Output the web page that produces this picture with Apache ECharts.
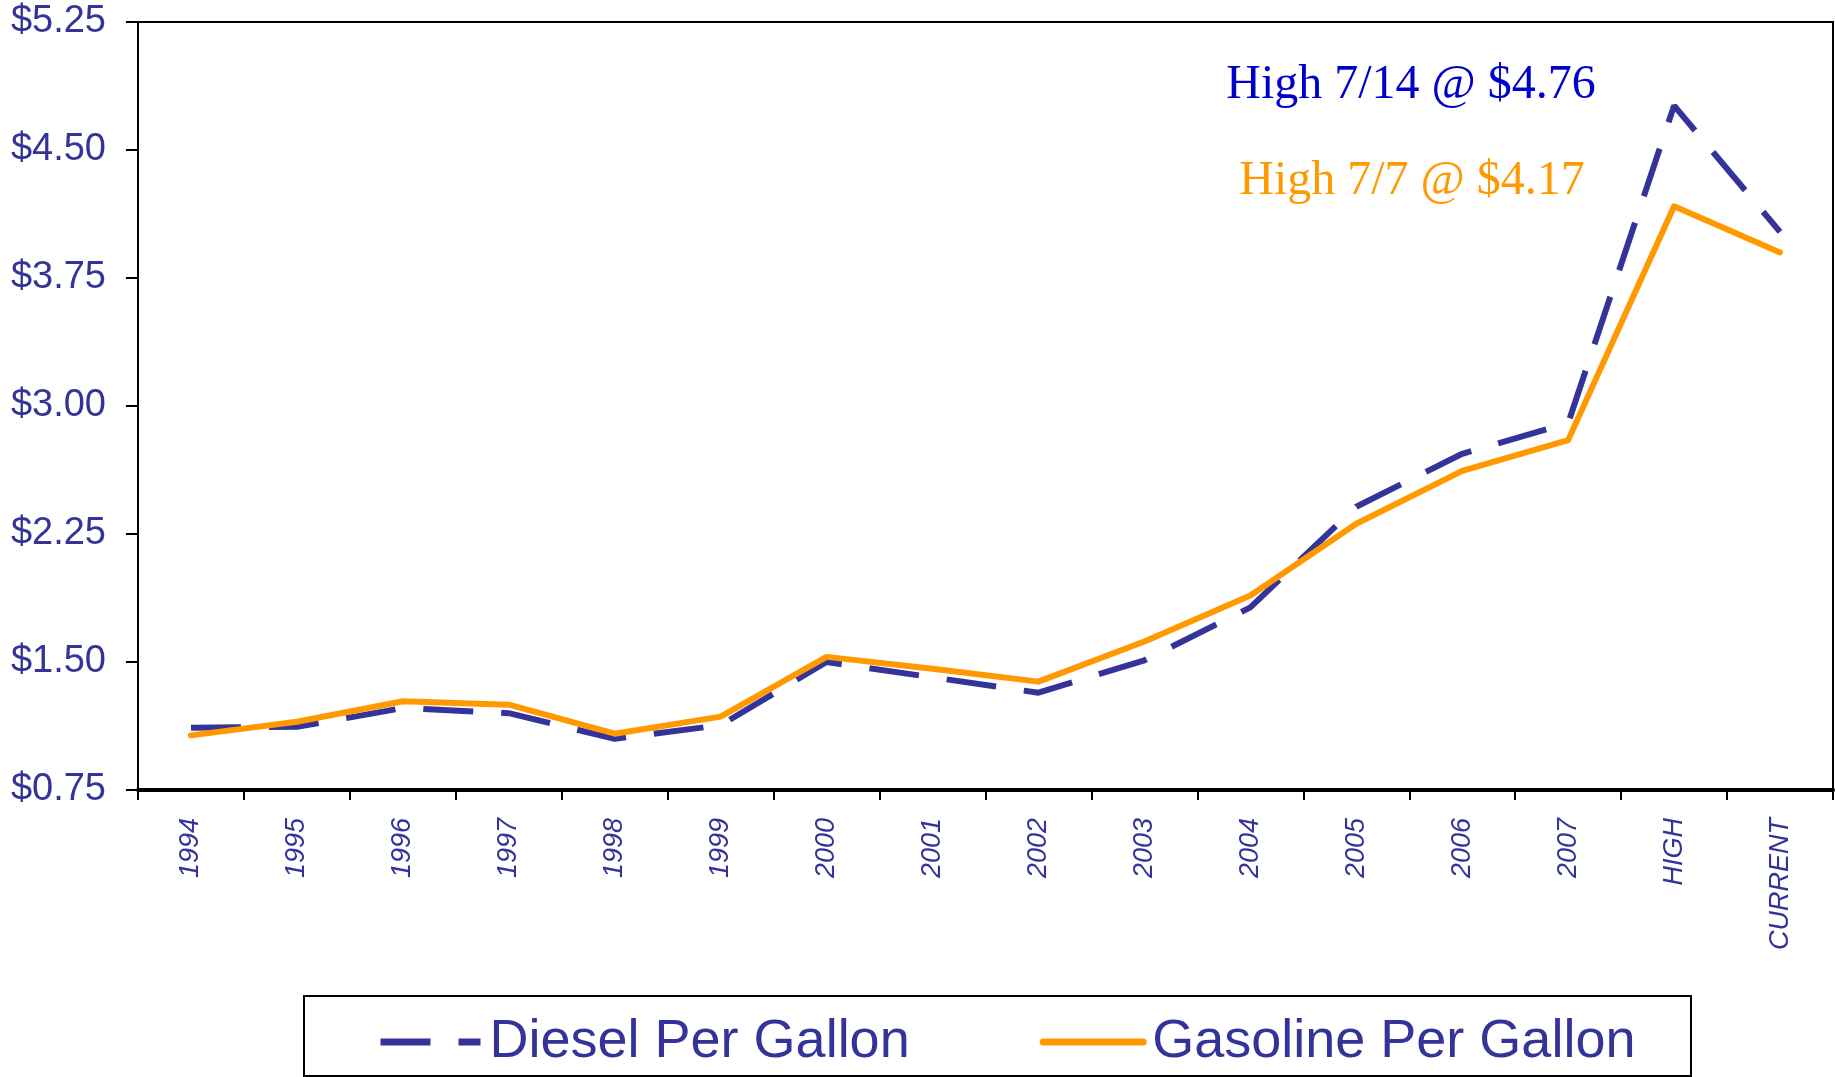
<!DOCTYPE html>
<html>
<head>
<meta charset="utf-8">
<script src="https://cdn.jsdelivr.net/npm/echarts@6/dist/echarts.min.js"></script>
<style>
  html, body { margin: 0; padding: 0; background: #fff; }
  #chart { width: 1835px; height: 1077px; }
</style>
</head>
<body>
<div id="chart"></div>
<script>
// categories along the bottom
const categories = ['1994', '1995', '1996', '1997', '1998', '1999', '2000', '2001',
  '2002', '2003', '2004', '2005', '2006', '2007', 'HIGH', 'CURRENT'];

// price per gallon
const dieselValues = [1.115, 1.12, 1.23, 1.20, 1.05, 1.13, 1.50, 1.41,
  1.32, 1.51, 1.82, 2.41, 2.72, 2.90, 4.76, 4.02];
const gasolineValues = [1.07, 1.15, 1.27, 1.25, 1.08, 1.18, 1.53, 1.46,
  1.385, 1.62, 1.89, 2.31, 2.62, 2.80, 4.17, 3.90];

// y axis ticks
const yMin = 0.75;
const yMax = 5.25;
const yStep = 0.75;

const navy = '#333399';
const orange = '#FF9900';

const chart = echarts.init(document.getElementById('chart'), null, { renderer: 'canvas' });

const option = {
  animation: false,
  backgroundColor: '#fff',
  grid: {
    left: 138, right: 2, top: 22, bottom: 287,
    show: true, borderColor: '#000', borderWidth: 2, backgroundColor: 'transparent'
  },
  xAxis: {
    type: 'category',
    data: categories,
    boundaryGap: true,
    axisLine: { lineStyle: { color: '#000', width: 4 } },
    axisTick: { show: true, alignWithLabel: false, length: 10, lineStyle: { color: '#000', width: 2 } },
    axisLabel: {
      interval: 0, rotate: 90, margin: 28,
      color: navy, fontSize: 27, fontStyle: 'italic',
      fontFamily: 'Liberation Sans, Arial, sans-serif'
    },
    splitLine: { show: false }
  },
  yAxis: {
    type: 'value',
    min: yMin, max: yMax, interval: yStep,
    axisLine: { show: true, lineStyle: { color: '#000', width: 2 } },
    axisTick: { show: true, inside: false, length: 12, lineStyle: { color: '#000', width: 2 } },
    axisLabel: {
      margin: 32, color: navy, fontSize: 38,
      fontFamily: 'Liberation Sans, Arial, sans-serif',
      formatter: v => '$' + v.toFixed(2)
    },
    splitLine: { show: false }
  },
  legend: {
    left: 372, top: 1010,
    itemWidth: 100, itemHeight: 14, itemGap: 130,
    itemStyle: { color: 'transparent', borderWidth: 0, opacity: 0 },
    lineStyle: { width: 7 },
    textStyle: {
      color: navy, fontSize: 54,
      fontFamily: 'Liberation Sans, Arial, sans-serif',
      padding: [0, 0, 0, 4]
    },
    data: ['Diesel Per Gallon', 'Gasoline Per Gallon']
  },
  graphic: [
    {
      type: 'rect', left: 303, top: 995, z: -1,
      shape: { width: 1387, height: 80 },
      style: { fill: 'transparent', stroke: '#000', lineWidth: 2 }
    },
    {
      type: 'text', x: 1411, y: 109,
      style: {
        text: 'High 7/14 @ $4.76', fill: '#0000CC',
        font: '48px "Liberation Serif", "Times New Roman", serif',
        textAlign: 'center', textVerticalAlign: 'bottom'
      }
    },
    {
      type: 'text', x: 1412, y: 205,
      style: {
        text: 'High 7/7 @ $4.17', fill: orange,
        font: '48px "Liberation Serif", "Times New Roman", serif',
        textAlign: 'center', textVerticalAlign: 'bottom'
      }
    }
  ],
  series: [
    {
      name: 'Diesel Per Gallon',
      type: 'line',
      data: dieselValues,
      symbol: 'none',
      color: navy,
      lineStyle: { color: navy, width: 6, type: [50, 28] },
      z: 2
    },
    {
      name: 'Gasoline Per Gallon',
      type: 'line',
      data: gasolineValues,
      symbol: 'none',
      color: orange,
      lineStyle: { color: orange, width: 6, cap: 'round', join: 'round' },
      z: 3
    }
  ]
};

chart.setOption(option);
</script>
</body>
</html>
